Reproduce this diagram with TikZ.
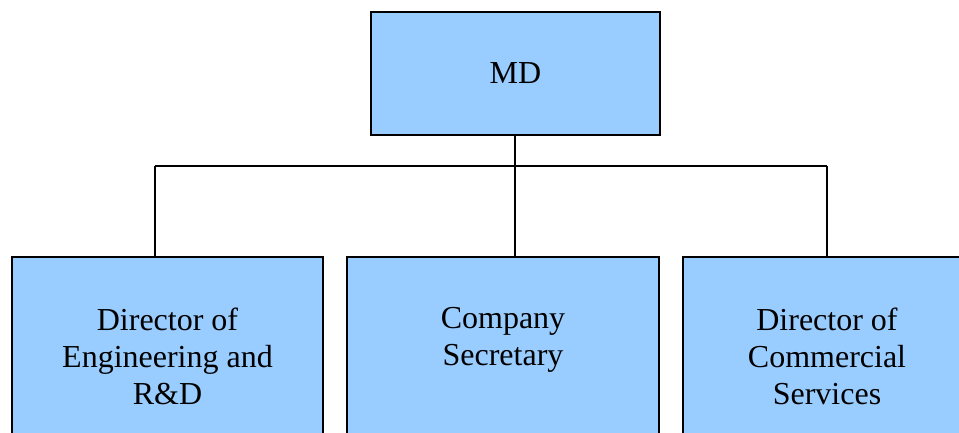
\documentclass[tikz,border=0pt]{standalone}
\usepackage{fontspec}
\setmainfont{Liberation Serif}
\definecolor{boxblue}{RGB}{153,204,255}
\tikzset{
  orgbox/.style={draw=black, line width=2pt, fill=boxblue, rectangle, inner sep=0pt},
  orgtext/.style={align=center, inner sep=0pt, anchor=north, font=\fontsize{32}{37}\selectfont},
  link/.style={draw=black, line width=1.4pt}
}
\begin{document}
\begin{tikzpicture}[x=1pt,y=-1pt]
\useasboundingbox (0,0) rectangle (959,432);
\clip (0,0) rectangle (959,432);
% top box
\node[orgbox, minimum width=289pt, minimum height=123pt, font=\fontsize{32}{37}\selectfont] (md) at (515.5,73.5) {MD};
% bottom boxes (extend below the picture edge)
\node[orgbox, minimum width=311pt, minimum height=220pt] (b1) at (167.5,367) {};
\node[orgbox, minimum width=312pt, minimum height=220pt] (b2) at (503,367) {};
\node[orgbox, minimum width=311pt, minimum height=220pt] (b3) at (838.5,367) {};
% texts
\node[orgtext] (t1) at (167.5,307.5) {Director of\\Engineering and\\R\&D};
\node[orgtext] (t2) at (503,307.5) {Company\\Secretary};
\node[orgtext] (t3) at (827,307.5) {Director of\\Commercial\\Services};
% connectors
\coordinate (bus) at (515,166);
\coordinate (j1) at (155,166);
\coordinate (j3) at (827,166);
\draw[link] (md.south -| bus) -- (bus);
\draw[link] (j1) -- (j3);
\draw[link] (j1) -- (j1 |- b1.north);
\draw[link] (bus) -- (bus |- b2.north);
\draw[link] (j3) -- (j3 |- b3.north);
\end{tikzpicture}
\end{document}
